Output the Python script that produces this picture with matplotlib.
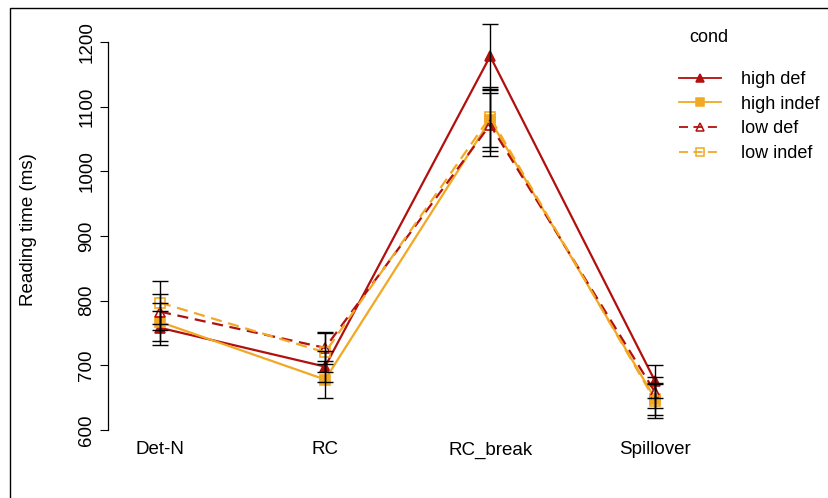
import matplotlib.pyplot as plt
from matplotlib.lines import Line2D
from matplotlib.patches import Rectangle

plt.rcParams['font.family'] = ['Liberation Sans', 'DejaVu Sans']

regions = ["Det-N", "RC", "RC_break", "Spillover"]
conds = ["high def", "high indef", "low def", "low indef"]

high_def = [758, 698, 1178, 675]
high_def_se = [26, 24, 50, 25]
high_indef = [767, 678, 1079, 648]
high_indef_se = [30, 28, 47, 25]
low_def = [783, 727, 1072, 658]
low_def_se = [28, 25, 49, 24]
low_indef = [797, 720, 1084, 645]
low_indef_se = [33, 30, 47, 26]

red = "#B20F0F"
orange = "#F2A823"

series = [
    (high_def, high_def_se, red, "-", "^", red),
    (high_indef, high_indef_se, orange, "-", "s", orange),
    (low_def, low_def_se, red, (0, (5, 3)), "^", "none"),
    (low_indef, low_indef_se, orange, (0, (5, 3)), "s", "none"),
]

fig = plt.figure(figsize=(8.29, 4.98), dpi=100)
ax = fig.add_axes([108 / 829, 1 - 440 / 498, (680 - 108) / 829, 420 / 498])

x = list(range(1, len(regions) + 1))
handles = []
for (vals, se, col, ls, mk, fc), name in zip(series, conds):
    ax.plot(x, vals, color=col, linestyle=ls, linewidth=1.6, marker=mk,
            markersize=7, markerfacecolor=fc, markeredgecolor=col,
            markeredgewidth=1.2, zorder=2)
    ax.errorbar(x, vals, yerr=se, fmt="none", ecolor="black",
                elinewidth=1, capsize=6, capthick=1, zorder=3)
    handles.append(Line2D([0], [0], color=col, linestyle=ls, linewidth=1.3,
                          marker=mk, markersize=6, markerfacecolor=fc,
                          markeredgecolor=col, markeredgewidth=1.1))

ax.set_xlim(0.685, 4.15)
ax.set_ylim(584.5, 1234)
ax.set_yticks([600, 700, 800, 900, 1000, 1100, 1200])
ax.set_yticklabels(["600", "700", "800", "900", "1000", "1100", "1200"],
                   rotation=90, va="center")
ax.set_xticks(x)
ax.set_xticklabels(regions)
ax.tick_params(axis="x", length=0, pad=1, labelsize=13.5)
ax.tick_params(axis="y", length=6, pad=3, labelsize=13.5)
ax.set_ylabel("Reading time (ms)", fontsize=13.5, labelpad=30)

for s in ["top", "right", "bottom"]:
    ax.spines[s].set_visible(False)
ax.spines["left"].set_bounds(600, 1200)
ax.spines["left"].set_linewidth(0.9)

leg = fig.legend(handles, conds, loc="upper left",
                 bbox_to_anchor=(672 / 829, 1 - 22 / 498), frameon=False,
                 title="cond", fontsize=13, title_fontsize=13,
                 handlelength=2.3, handletextpad=1.1, labelspacing=0.42,
                 borderaxespad=0)
leg._legend_box.align = "left"
leg._legend_box.sep = 18
leg.get_title().set_position((10, 0))

fig.patches.append(Rectangle((10 / 829, -0.01), 1.0, 1 - 8 / 498 + 0.01,
                             transform=fig.transFigure, fill=False,
                             edgecolor="black", linewidth=1))

fig.savefig("out.png", dpi=100)
